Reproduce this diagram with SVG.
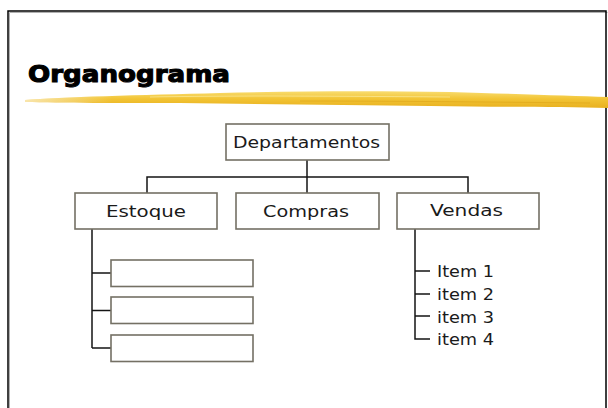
<svg xmlns="http://www.w3.org/2000/svg" width="608" height="408" viewBox="0 0 608 408">
<defs>
<style>
.box{fill:#fff;stroke:#747064;stroke-width:1.6}
.lbl{font-family:"DejaVu Sans","Liberation Sans",sans-serif;font-size:16.5px;fill:#1a1a1a}
.con{fill:none;stroke:#141414;stroke-width:1.5}
</style>
<linearGradient id="brush" x1="0" y1="0" x2="0" y2="1">
<stop offset="0" stop-color="#f8dc70"/>
<stop offset="0.45" stop-color="#f2c434"/>
<stop offset="1" stop-color="#e8b020"/>
</linearGradient>
<linearGradient id="fade" x1="0" y1="0" x2="1" y2="0">
<stop offset="0" stop-color="#fff" stop-opacity="0.6"/>
<stop offset="0.15" stop-color="#fff" stop-opacity="0"/>
<stop offset="1" stop-color="#fff" stop-opacity="0"/>
</linearGradient>
</defs>
<rect width="608" height="408" fill="#fff"/>
<path d="M9.5,408 V12.5 H607.5" fill="none" stroke="#b0b0b0" stroke-width="1"/>
<path d="M8,408 V11 H606 V408" fill="none" stroke="#000" stroke-width="1.5"/>
<g id="title">
<path d="M25,100 C60,97 140,95 220,93 C300,91 380,91 450,92 C520,94 570,96 608,97 L608,108 C560,107 500,107 430,106 C350,105 260,104 180,103 C120,103 60,103 25,102 Z" fill="url(#brush)"/>
<path d="M25,100 C60,97 140,95 220,93 L608,97 L608,108 L25,102 Z" fill="url(#fade)"/>
<path d="M150,97 C250,95 350,96 450,97" fill="none" stroke="#fae690" stroke-width="1.2" opacity="0.8"/>
<path d="M300,101 C400,101 480,102 590,103" fill="none" stroke="#dca418" stroke-width="1" opacity="0.6"/>
<text x="28" y="82" font-family="'DejaVu Sans','Liberation Sans',sans-serif" font-weight="bold" font-size="23.5" fill="#000" stroke="#000" stroke-width="1.1" textLength="202" lengthAdjust="spacingAndGlyphs">Organograma</text>
</g>
<g id="connectors">
<path class="con" d="M307,160 V193 M147,193 V177 H468 V193"/>
<path class="con" d="M92,229 V348 M92,273 H111 M92,310.5 H111 M92,348 H111"/>
<path class="con" d="M415,229 V339 H430 M415,271 H430 M415,294 H430 M415,316 H430"/>
</g>
<g id="departamentos">
<rect class="box" x="226" y="124" width="163" height="36"/>
<text class="lbl" x="233" y="148" textLength="147" lengthAdjust="spacingAndGlyphs">Departamentos</text>
</g>
<g id="estoque">
<rect class="box" x="75" y="193" width="142" height="36"/>
<text class="lbl" x="106" y="216.5" textLength="80" lengthAdjust="spacingAndGlyphs">Estoque</text>
</g>
<g id="compras">
<rect class="box" x="236" y="193" width="143" height="36"/>
<text class="lbl" x="263" y="216.5" textLength="86" lengthAdjust="spacingAndGlyphs">Compras</text>
</g>
<g id="vendas">
<rect class="box" x="397" y="193" width="142" height="36"/>
<text class="lbl" x="430" y="216" textLength="73" lengthAdjust="spacingAndGlyphs">Vendas</text>
</g>
<g id="estoque-sub1"><rect class="box" x="111" y="260" width="142" height="26.5"/></g>
<g id="estoque-sub2"><rect class="box" x="111" y="297" width="142" height="26.5"/></g>
<g id="estoque-sub3"><rect class="box" x="111" y="335" width="142" height="26.5"/></g>
<g id="items">
<text class="lbl" x="437" y="277" textLength="57" lengthAdjust="spacingAndGlyphs">Item 1</text>
<text class="lbl" x="437" y="300" textLength="57" lengthAdjust="spacingAndGlyphs">item 2</text>
<text class="lbl" x="437" y="322.5" textLength="57" lengthAdjust="spacingAndGlyphs">item 3</text>
<text class="lbl" x="437" y="345" textLength="57" lengthAdjust="spacingAndGlyphs">item 4</text>
</g>
</svg>
